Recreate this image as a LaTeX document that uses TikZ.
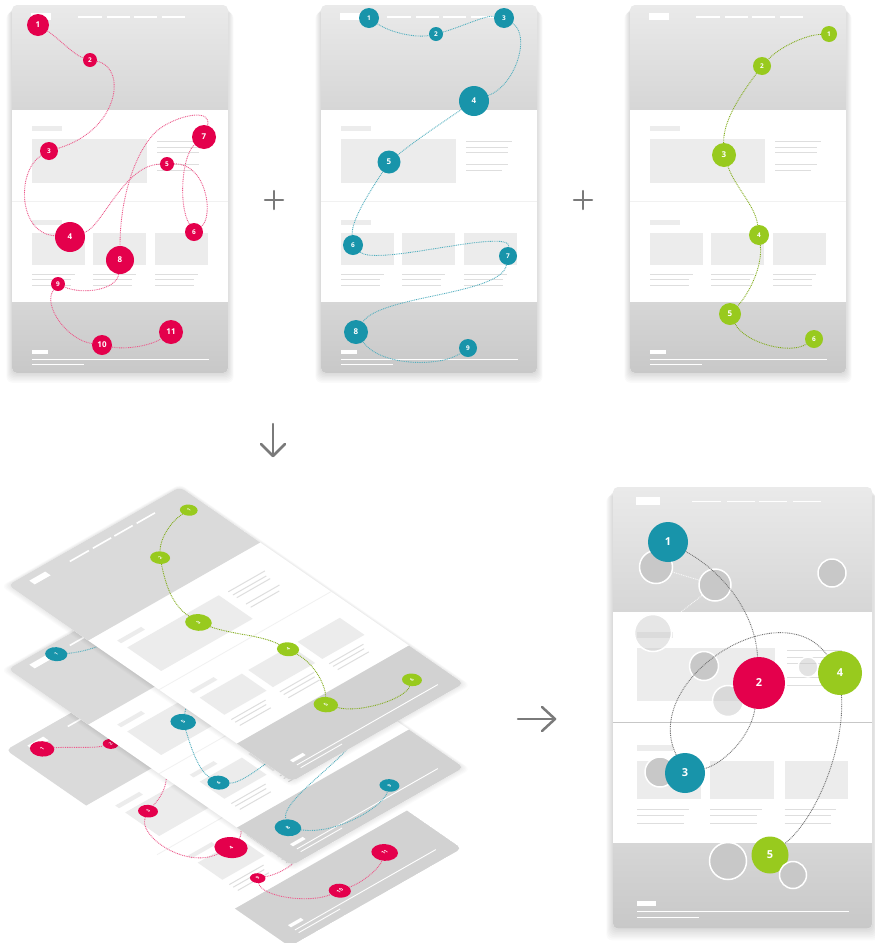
\documentclass[tikz,border=0pt]{standalone}
\usepackage{fontspec}
\setsansfont{Open Sans}
\definecolor{cred}{RGB}{228,0,76}
\definecolor{cteal}{RGB}{24,148,170}
\definecolor{cgreen}{RGB}{152,202,30}
\definecolor{hdrA}{RGB}{234,234,234}
\definecolor{hdrB}{RGB}{214,214,214}
\definecolor{hdrM}{RGB}{218,218,218}
\definecolor{ftrA}{RGB}{214,214,214}
\definecolor{ftrB}{RGB}{200,200,200}
\definecolor{ftrM}{RGB}{210,210,210}
\definecolor{blk}{RGB}{236,236,236}
\definecolor{lnc}{RGB}{222,222,222}
\definecolor{divc}{RGB}{241,241,241}
\definecolor{arw}{RGB}{122,122,122}
\definecolor{ghostc}{RGB}{200,200,200}
\definecolor{gdot}{RGB}{115,115,115}
\tikzset{
  num/.style={circle,inner sep=0pt,text=white,font=\sffamily\bfseries\fontsize{6.5}{7}\selectfont},
  big/.style={font=\sffamily\bfseries\fontsize{8}{9}\selectfont},
  huge/.style={font=\sffamily\bfseries\fontsize{11}{12}\selectfont},
  rn/.style={num,fill=cred},
  tn/.style={num,fill=cteal},
  gn/.style={num,fill=cgreen},
  dotline/.style={line width=0.9pt,dash pattern=on 0.9pt off 0.9pt},
  rdot/.style={dotline,draw=cred!65},
  tdot/.style={dotline,draw=cteal!75},
  gdotl/.style={dotline,draw=cgreen!85!black},
  gdots/.style={dotline,draw=gdot},
  wdots/.style={dotline,draw=white},
  hdr/.style={top color=hdrA,bottom color=hdrB},
  ftr/.style={top color=ftrA,bottom color=ftrB},
  divline/.style={draw=divc,line width=0.8pt},
  ghost/.style={circle,inner sep=0pt,draw=white,line width=1.5pt,fill=ghostc},
  symb/.style={draw=arw,line width=2.5pt,line cap=round,line join=round},
  iso/.style={transform shape,hdr/.style={fill=hdrM},ftr/.style={fill=ftrM},
    num/.style={circle,inner sep=0pt,text=white,font=\sffamily\bfseries\fontsize{5}{5}\selectfont},
    big/.style={font=\sffamily\bfseries\fontsize{5.5}{6}\selectfont}},
}
\newcommand\wirepage{%
  \fill[white,rounded corners=5pt] (0,0) rectangle (216,368);
  \begin{scope}
    \clip[rounded corners=5pt] (0,0) rectangle (216,368);
    \path[hdr] (0,0) rectangle (216,104);
    \path[ftr] (0,297) rectangle (216,368);
  \end{scope}
  \draw[divline] (0,196) -- (216,196);
  \fill[white] (19,8) rectangle (39,15);
  \foreach \p/\q in {66/90,95/118,122/145,150/173}{\draw[white,line width=1.6pt] (\p,12) -- (\q,12);}
  \fill[blk] (20,121) rectangle (50,126);
  \fill[blk] (20,134) rectangle (135,178);
  \foreach \p/\q in {136/191,142/187,147/187,159/187,165/181}{\draw[lnc,line width=1pt] (145,\p) -- (\q,\p);}
  \fill[blk] (20,215) rectangle (50,220);
  \foreach \p in {20,81,143}{%
    \fill[blk] (\p,228) rectangle ++(53,32);
    \draw[lnc,line width=1pt] (\p,269) -- ++(43,0) (\p,274) -- ++(39,0) (\p,280) -- ++(39,0);}
  \fill[white] (20,345) rectangle (36,349);
  \draw[white,line width=0.9pt] (20,354) -- (197,354) (20,359) -- (72,359);
}
\newcommand\pageshadow{%
  \foreach \i in {1,...,7}{\fill[black,opacity=0.018,rounded corners=6pt] (-\i*0.8,1+\i*0.9) rectangle (216+\i*0.8,368+\i*1.4);}}
\newcommand\isoshadow{%
  \foreach \i in {1,...,5}{\fill[black,opacity=0.015,rounded corners=6pt] (-\i*1.2,-\i*0.6) rectangle (216+\i*0.6,368+\i*1.2);}}
% red route
\newcommand\rednodes[1]{%
  \node[rn,big,minimum size=22pt] (#1-1) at (26,20) {1};
  \node[rn,minimum size=14pt] (#1-2) at (78,55) {2};
  \node[rn,minimum size=18pt] (#1-3) at (37,146) {3};
  \node[rn,big,minimum size=30pt] (#1-4) at (58,232) {4};
  \node[rn,minimum size=14pt] (#1-5) at (155,159) {5};
  \node[rn,minimum size=18pt] (#1-6) at (182,227) {6};
  \node[rn,big,minimum size=24pt] (#1-7) at (192,132) {7};
  \node[rn,big,minimum size=28pt] (#1-8) at (108,255) {8};
  \node[rn,minimum size=14pt] (#1-9) at (46,279) {9};
  \node[rn,big,minimum size=20pt] (#1-10) at (90,340) {10};
  \node[rn,big,minimum size=24pt] (#1-11) at (159,327) {11};
}
\newcommand\redlinks[1]{%
  \draw[rdot] (#1-1) .. controls (45,32) and (62,50) .. (#1-2);
  \draw[rdot] (#1-2) .. controls (115,62) and (108,125) .. (#1-3);
  \draw[rdot] (#1-3) .. controls (5,165) and (5,228) .. (#1-4);
  \draw[rdot] (#1-4) .. controls (90,222) and (112,160) .. (#1-5);
  \draw[rdot] (#1-5) .. controls (195,158) and (202,212) .. (#1-6);
  \draw[rdot] (#1-6) .. controls (166,200) and (170,150) .. (#1-7);
  \draw[rdot] (#1-7) .. controls (200,105) and (172,108) .. (150,122) .. controls (128,136) and (108,185) .. (#1-8);
  \draw[rdot] (#1-8) .. controls (105,285) and (70,290) .. (#1-9);
  \draw[rdot] (#1-9) .. controls (30,300) and (55,335) .. (#1-10);
  \draw[rdot] (#1-10) .. controls (115,345) and (140,340) .. (#1-11);
}
% teal route
\newcommand\tealnodes[1]{%
  \node[tn,minimum size=20pt] (#1-1) at (48,13) {1};
  \node[tn,minimum size=14pt] (#1-2) at (115,29) {2};
  \node[tn,minimum size=20pt] (#1-3) at (183,13) {3};
  \node[tn,big,minimum size=30pt] (#1-4) at (153,96) {4};
  \node[tn,big,minimum size=23pt] (#1-5) at (68,157) {5};
  \node[tn,minimum size=20pt] (#1-6) at (32,240) {6};
  \node[tn,minimum size=18pt] (#1-7) at (187,251) {7};
  \node[tn,big,minimum size=24pt] (#1-8) at (35,327) {8};
  \node[tn,minimum size=18pt] (#1-9) at (147,343) {9};
}
\newcommand\teallinks[1]{%
  \draw[tdot] (#1-1) .. controls (70,28) and (95,33) .. (#1-2);
  \draw[tdot] (#1-2) .. controls (140,22) and (165,10) .. (#1-3);
  \draw[tdot] (#1-3) .. controls (210,30) and (195,80) .. (#1-4);
  \draw[tdot] (#1-4) .. controls (125,115) and (95,135) .. (#1-5);
  \draw[tdot] (#1-5) .. controls (50,185) and (30,215) .. (#1-6);
  \draw[tdot] (#1-6) .. controls (55,262) and (190,222) .. (#1-7);
  \draw[tdot] (#1-7) .. controls (180,290) and (60,290) .. (#1-8);
  \draw[tdot] (#1-8) .. controls (60,362) and (120,362) .. (#1-9);
}
% green route
\newcommand\greennodes[1]{%
  \node[gn,minimum size=16pt] (#1-1) at (199,29) {1};
  \node[gn,minimum size=18pt] (#1-2) at (132,61) {2};
  \node[gn,big,minimum size=24pt] (#1-3) at (94,150) {3};
  \node[gn,minimum size=20pt] (#1-4) at (129,230) {4};
  \node[gn,big,minimum size=22pt] (#1-5) at (100,309) {5};
  \node[gn,minimum size=18pt] (#1-6) at (184,334) {6};
}
\newcommand\greenlinks[1]{%
  \draw[gdotl] (#1-1) .. controls (175,30) and (150,42) .. (#1-2);
  \draw[gdotl] (#1-2) .. controls (112,88) and (93,115) .. (#1-3);
  \draw[gdotl] (#1-3) .. controls (105,182) and (125,200) .. (#1-4);
  \draw[gdotl] (#1-4) .. controls (133,262) and (118,290) .. (#1-5);
  \draw[gdotl] (#1-5) .. controls (115,338) and (160,350) .. (#1-6);
}
\begin{document}
\begin{tikzpicture}[x=1pt,y=-1pt]
\useasboundingbox (0,0) rectangle (875,943);
\fill[white] (0,0) rectangle (875,943);
% ---------- top row ----------
\begin{scope}[shift={(12,5)}]
  \pageshadow \wirepage \rednodes{ra} \redlinks{ra}
\end{scope}
\begin{scope}[shift={(321,5)}]
  \pageshadow \wirepage \tealnodes{ta} \teallinks{ta}
\end{scope}
\begin{scope}[shift={(630,5)}]
  \pageshadow \wirepage \greennodes{ga} \greenlinks{ga}
\end{scope}
% plus signs
\coordinate (plusA) at (274,200);
\coordinate (plusB) at (583,200);
\draw[symb] ([xshift=-9pt]plusA) -- ([xshift=9pt]plusA) ([yshift=-9pt]plusA) -- ([yshift=9pt]plusA);
\draw[symb] ([xshift=-9pt]plusB) -- ([xshift=9pt]plusB) ([yshift=-9pt]plusB) -- ([yshift=9pt]plusB);
% down arrow
\coordinate (dnA) at (273,424);
\coordinate (dnB) at (273,456);
\draw[symb] (dnA) -- (dnB);
\draw[symb] ([shift={(-12,-12)}]dnB) -- (dnB) -- ([shift={(12,-12)}]dnB);
% right arrow
\coordinate (rtA) at (518,719);
\coordinate (rtB) at (555,719);
\draw[symb] (rtA) -- (rtB);
\draw[symb] ([shift={(-13,-12)}]rtB) -- (rtB) -- ([shift={(-13,12)}]rtB);
% ---------- isometric stack ----------
\begin{scope}[cm={0.796,0.454,-0.771,0.534,(6pt,-750pt)},iso]
  \wirepage \rednodes{rs} \redlinks{rs}
\end{scope}
\begin{scope}[cm={0.796,0.454,-0.771,0.534,(8pt,-669pt)},iso]
  \isoshadow \wirepage \tealnodes{ts} \teallinks{ts}
\end{scope}
\begin{scope}[cm={0.796,0.454,-0.771,0.534,(8pt,-585pt)},iso]
  \isoshadow \wirepage \greennodes{gs} \greenlinks{gs}
\end{scope}
% ---------- combined result ----------
\begin{scope}[shift={(613,487)},scale=1.2]
  \pageshadow \wirepage
  \draw[draw=black!22,line width=0.8pt] (0,196) -- (216,196);
\end{scope}
\node[ghost,minimum size=33pt] (ca) at (656,567) {};
\node[ghost,minimum size=32pt] (cb) at (715,585) {};
\node[ghost,minimum size=28pt] (cc) at (832,573) {};
\node[ghost,minimum size=37pt,fill opacity=0.45] (cd) at (653,633) {};
\node[ghost,minimum size=29pt] (ce) at (704,666) {};
\node[ghost,minimum size=31pt,fill opacity=0.5] (cf) at (728,701) {};
\node[ghost,minimum size=20pt,fill opacity=0.5] (cg) at (808,667) {};
\node[ghost,minimum size=30pt] (ch) at (660,772) {};
\node[ghost,minimum size=37pt] (ci) at (728,861) {};
\draw[wdots,opacity=0.8] (ca) -- (cb);
\draw[wdots,opacity=0.8] (cd) .. controls (690,605) .. (cb);
\node[tn,huge,minimum size=40pt] (b1) at (668,542) {1};
\node[rn,huge,minimum size=52pt] (b2) at (759,683) {2};
\node[tn,huge,minimum size=40pt] (b3) at (685,773) {3};
\node[gn,huge,minimum size=44pt] (b4) at (840,673) {4};
\node[gn,huge,minimum size=37pt] (b5) at (770,855) {5};
\node[ghost,minimum size=27pt] (cj) at (793,875) {};
\draw[gdots] (b1) .. controls (720,570) and (755,610) .. (b2);
\draw[gdots] (b2) .. controls (750,740) and (720,765) .. (b3);
\draw[gdots] (b3) .. controls (640,680) and (780,590) .. (b4);
\draw[gdots] (b4) .. controls (845,750) and (815,820) .. (b5);
\end{tikzpicture}
\end{document}
